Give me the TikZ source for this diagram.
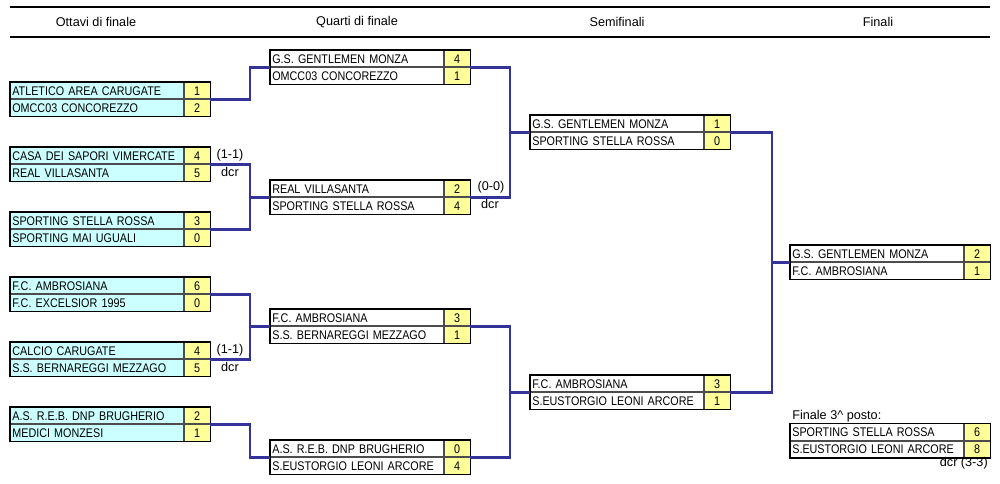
\documentclass[tikz,border=0pt]{standalone}
\usepackage{fontspec}
\setmainfont{Liberation Sans}
\newfontfamily\teamfont[FakeStretch=0.86]{Liberation Sans}
\usepackage{tikz}
\usetikzlibrary{calc,positioning}
\definecolor{link}{HTML}{333399}
\definecolor{cyanbox}{HTML}{CCFFFF}
\definecolor{yellowbox}{HTML}{FFFF99}
\tikzset{
  team/.style={draw=black!70, line width=0.5pt, anchor=north west, align=left,
    text width=126.75pt, minimum height=12.375pt, inner xsep=1.5pt, inner ysep=0pt,
    text height=6.8pt, text depth=0pt, font={\teamfont\fontsize{9.4pt}{11pt}\selectfont}},
  score/.style={draw=black!70, line width=0.5pt, anchor=north west, fill=yellowbox,
    minimum width=19.5pt, minimum height=12.375pt, inner sep=0pt,
    text height=6.8pt, text depth=0pt, font={\teamfont\fontsize{9.4pt}{11pt}\selectfont}},
  frame/.style={draw=black, line width=1.2pt},
  link/.style={draw=link, line width=2.2pt},
  rule/.style={draw=black, line width=1.5pt},
  head/.style={font=\fontsize{9.5pt}{11pt}\selectfont},
  note/.style={inner sep=0pt, font=\fontsize{9.5pt}{11pt}\selectfont},
}
\newcommand\matchbox[8]{%
  \node[team, fill=#4] (#1-a) at (#2,#3) {#5};
  \node[score] (#1-as) at (#1-a.north east) {#6};
  \node[team, fill=#4] (#1-b) at (#1-a.south west) {#7};
  \node[score] (#1-bs) at (#1-b.north east) {#8};
  \draw[frame] (#1-a.north west) rectangle (#1-bs.south east);
  \coordinate (#1-l) at (#1-a.south west);
  \coordinate (#1-r) at (#1-as.south east);
}

\begin{document}
\begin{tikzpicture}[x=0.75pt,y=-0.75pt]
  \useasboundingbox (0,0) rectangle (1000,484);
  % header
  \draw[rule] (10,7) -- (990,7);
  \draw[rule] (10,37) -- (990,37);
  \foreach \t/\x [count=\i] in {Ottavi di finale/96,Quarti di finale/357,Semifinali/617,Finali/878}
    \node[head] (h\i) at (\x,22) {\t};
  % boxes
  \foreach \id/\y/\ta/\sa/\tb/\sb in {
      o1/82/ATLETICO AREA CARUGATE/1/OMCC03 CONCOREZZO/2,
      o2/147/CASA DEI SAPORI VIMERCATE/4/REAL VILLASANTA/5,
      o3/212/SPORTING STELLA ROSSA/3/SPORTING MAI UGUALI/0,
      o4/277/F.C. AMBROSIANA/6/F.C. EXCELSIOR 1995/0,
      o5/342/CALCIO CARUGATE/4/S.S. BERNAREGGI MEZZAGO/5,
      o6/407/A.S. R.E.B. DNP BRUGHERIO/2/MEDICI MONZESI/1}
    \matchbox{\id}{10}{\y}{cyanbox}{\ta}{\sa}{\tb}{\sb};
  \foreach \id/\x/\y/\ta/\sa/\tb/\sb in {
      q1/270/50/G.S. GENTLEMEN MONZA/4/OMCC03 CONCOREZZO/1,
      q2/270/180/REAL VILLASANTA/2/SPORTING STELLA ROSSA/4,
      q3/270/309/F.C. AMBROSIANA/3/S.S. BERNAREGGI MEZZAGO/1,
      q4/270/440/A.S. R.E.B. DNP BRUGHERIO/0/S.EUSTORGIO LEONI ARCORE/4,
      s1/530/115/G.S. GENTLEMEN MONZA/1/SPORTING STELLA ROSSA/0,
      s2/530/375/F.C. AMBROSIANA/3/S.EUSTORGIO LEONI ARCORE/1,
      f/790/245/G.S. GENTLEMEN MONZA/2/F.C. AMBROSIANA/1,
      t3/790/423.5/SPORTING STELLA ROSSA/6/S.EUSTORGIO LEONI ARCORE/8}
    \matchbox{\id}{\x}{\y}{white}{\ta}{\sa}{\tb}{\sb};
  % connectors
  \draw[link] (o1-r) -| ([xshift=-15pt]q1-l) -- (q1-l);
  \draw[link] (o6-r) -| ([xshift=-15pt]q4-l) -- (q4-l);
  \foreach \a/\b/\c in {o2/o3/q2,o4/o5/q3,q1/q2/s1,q3/q4/s2} {
    \draw[link] (\a-r) -| ([xshift=-15pt]\c-l) |- (\b-r);
    \draw[link] ([xshift=-15pt]\c-l) -- (\c-l);
  }
  \draw[link] (s1-r) -| ([xshift=-13.5pt]f-l) |- (s2-r);
  \draw[link] ([xshift=-13.5pt]f-l) -- (f-l);
  % notes
  \node[note] (n1) at (230,155) {(1-1)};
  \node[note] (n2) at (230,172) {dcr};
  \node[note] (n3) at (230,350) {(1-1)};
  \node[note] (n4) at (230,367) {dcr};
  \node[note] (n5) at (491,187) {(0-0)};
  \node[note] (n6) at (490,204) {dcr};
  \node[note, anchor=west] (thirdlab) at (792,416) {Finale 3\textasciicircum{} posto:};
  \node[note, anchor=east] (thirddcr) at (988,463) {dcr (3-3)};
\end{tikzpicture}
\end{document}
